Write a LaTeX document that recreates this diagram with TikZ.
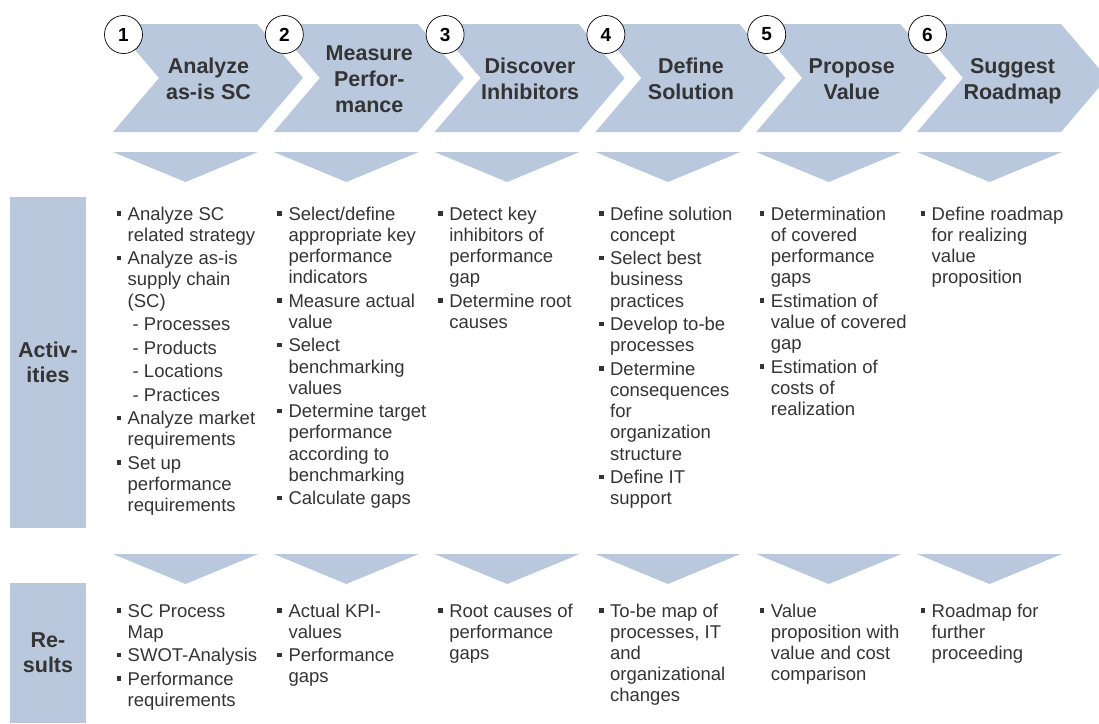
\documentclass[tikz,border=0pt]{standalone}
\usepackage{fontspec}
\setmainfont{Liberation Sans}
\usetikzlibrary{calc}

\definecolor{chevblue}{RGB}{185,200,221}
\definecolor{txtgray}{RGB}{52,52,52}
% small square bullet hanging left of the text
\newcommand{\bul}{\makebox[0pt][r]{\rule[4.5pt]{4.6pt}{4.6pt}\hspace{6.5pt}}}

\tikzset{
  chev/.style={fill=chevblue, draw=none},
  numcirc/.style={circle, draw=black, fill=white, line width=0.7pt,
                  minimum size=38pt, inner sep=0pt,
                  font=\fontsize{19}{19}\selectfont\bfseries},
  steptitle/.style={align=center, text=txtgray, inner sep=0pt, text depth=0pt,
                    font=\fontsize{21.5}{26}\selectfont\bfseries},
  coltext/.style={align=left, anchor=north west, inner sep=0pt, text=txtgray,
                  font=\fontsize{18.5}{21.2}\selectfont},
  rowlabel/.style={fill=chevblue, minimum width=76, align=center, text=txtgray,
                   font=\fontsize{21.5}{25}\selectfont\bfseries},
}

\begin{document}
\begin{tikzpicture}[x=1pt, y=-1pt]
\useasboundingbox (0,0) rectangle (1099,723);
\def\xs{160.8} %shift between the steps
\def\xo{113} %left edge of first step
\foreach \i/\ttl in {1/{Analyze\\as-is SC}, 2/{Measure\\Perfor-\\mance},
                     3/{Discover\\Inhibitors}, 4/{Define\\Solution},
                     5/{Propose\\Value}, 6/{Suggest\\Roadmap}}
{
\pgfmathsetmacro\L{\xo+(\i-1)*\xs}
% chevron of the step
\fill[chev] (\L,24) -- ++(144,0) -- ++(46,54) -- ++(-46,54) -- ++(-144,0)
            -- ++(46,-54) -- cycle;
\node[steptitle] (ttl\i) at (\L+95.5,79) {\ttl};
\node[numcirc] (num\i) at (\L+10.5,34.5) {\i};
% arrows down to activities and results
\fill[chev] (\L,152) -- ++(145,0) -- ++(-72.5,30) -- cycle;
\fill[chev] (\L,554) -- ++(145,0) -- ++(-72.5,30) -- cycle;
}

% row labels
\node[rowlabel, minimum height=331] (activities) at (48,362.5) {Activ-\\ities};
\node[rowlabel, minimum height=140] (results) at (48,653) {Re-\\sults};

% activities
\node[coltext] (act1) at (127.5,205) {\strut\bul Analyze SC\\related strategy\\[2.3pt]
  \bul Analyze as-is\\supply chain\\(SC)\\[2.3pt]
  \hspace*{5pt}- Processes\\[2.3pt]\hspace*{5pt}- Products\\[2.3pt]
  \hspace*{5pt}- Locations\\[2.3pt]\hspace*{5pt}- Practices\\[2.3pt]
  \bul Analyze market\\requirements\\[2.3pt]
  \bul Set up\\performance\\requirements};
\node[coltext] (act2) at (288.3,205) {\strut\bul Select/define\\appropriate key\\performance\\indicators\\[2.3pt]
  \bul Measure actual\\value\\[2.3pt]
  \bul Select\\benchmarking\\values\\[2.3pt]
  \bul Determine target\\performance\\according to\\benchmarking\\[2.3pt]
  \bul Calculate gaps};
\node[coltext] (act3) at (449.1,205) {\strut\bul Detect key\\inhibitors of\\performance\\gap\\[2.3pt]
  \bul Determine root\\causes};
\node[coltext] (act4) at (609.9,205) {\strut\bul Define solution\\concept\\[2.3pt]
  \bul Select best\\business\\practices\\[2.3pt]
  \bul Develop to-be\\processes\\[2.3pt]
  \bul Determine\\consequences\\for\\organization\\structure\\[2.3pt]
  \bul Define IT\\support};
\node[coltext] (act5) at (770.7,205) {\strut\bul Determination\\of covered\\performance\\gaps\\[2.3pt]
  \bul Estimation of\\value of covered\\gap\\[2.3pt]
  \bul Estimation of\\costs of\\realization};
\node[coltext] (act6) at (931.5,205) {\strut\bul Define roadmap\\for realizing\\value\\proposition};

% results
\node[coltext] (res1) at (127.5,602) {\strut\bul SC Process\\Map\\[2.3pt]
  \bul SWOT-Analysis\\[2.3pt]
  \bul Performance\\requirements};
\node[coltext] (res2) at (288.3,602) {\strut\bul Actual KPI-\\values\\[2.3pt]
  \bul Performance\\gaps};
\node[coltext] (res3) at (449.1,602) {\strut\bul Root causes of\\performance\\gaps};
\node[coltext] (res4) at (609.9,602) {\strut\bul To-be map of\\processes, IT\\and\\organizational\\changes};
\node[coltext] (res5) at (770.7,602) {\strut\bul Value\\proposition with\\value and cost\\comparison};
\node[coltext] (res6) at (931.5,602) {\strut\bul Roadmap for\\further\\proceeding};
\end{tikzpicture}
\end{document}
